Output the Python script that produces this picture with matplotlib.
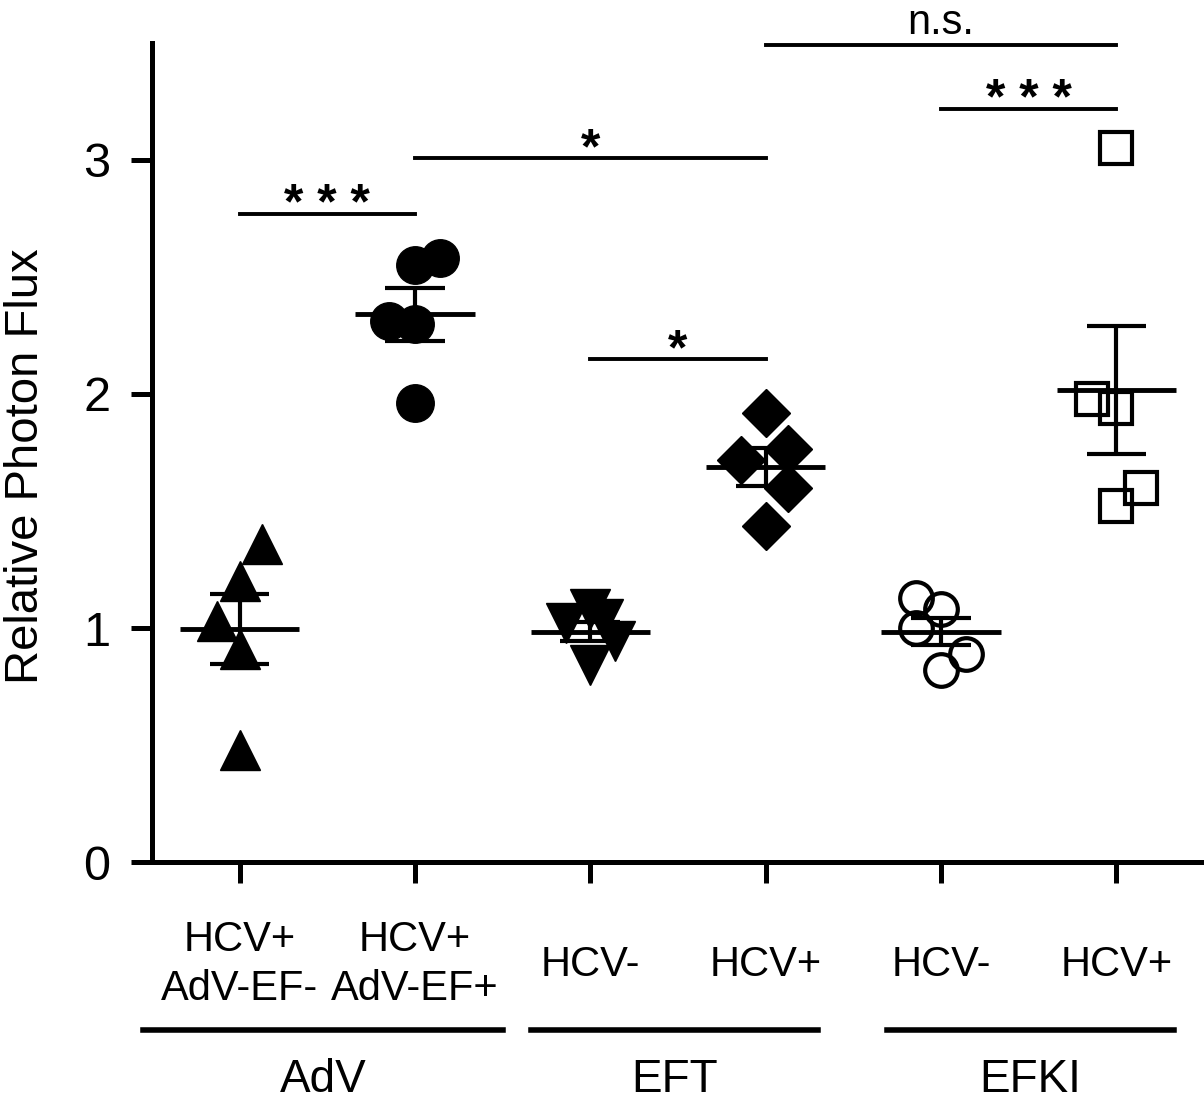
import numpy as np
import matplotlib
matplotlib.use('Agg')
import matplotlib.pyplot as plt

# relative photon flux per animal
adv_ef_neg = [1.36, 1.20, 1.03, 0.91, 0.48]
adv_ef_pos = [2.55, 2.58, 2.31, 2.30, 1.96]
eft_neg = [1.08, 1.02, 1.04, 0.945, 0.84]
eft_pos = [1.92, 1.72, 1.765, 1.60, 1.435]
efki_neg = [1.13, 1.08, 1.00, 0.89, 0.82]
efki_pos = [3.05, 1.98, 1.94, 1.60, 1.52]

tick_labels = ['HCV+\nAdV-EF-', 'HCV+\nAdV-EF+', 'HCV-', 'HCV+', 'HCV-', 'HCV+']
group_names = ['AdV', 'EFT', 'EFKI']

# significance: (left column, right column, label)
sig_pairs = [(1, 2, '* * *'), (2, 4, '*'), (3, 4, '*'), (5, 6, '* * *'), (4, 6, 'n.s.')]

# --- layout / style ---
columns = [adv_ef_neg, adv_ef_pos, eft_neg, eft_pos, efki_neg, efki_pos]
jitter = [
    [0.13, 0.0, -0.13, 0.0, 0.0],
    [0.0, 0.14, -0.15, 0.0, 0.0],
    [0.0, -0.14, 0.07, 0.14, 0.0],
    [0.0, -0.14, 0.13, 0.13, 0.0],
    [-0.14, 0.0, -0.14, 0.14, 0.0],
    [0.0, -0.14, 0.0, 0.14, 0.0],
]
marker_style = [
    dict(marker='^', ms=29, mfc='black', mew=1),
    dict(marker='o', ms=27, mfc='black', mew=1),
    dict(marker='v', ms=29, mfc='black', mew=1),
    dict(marker='D', ms=24.5, mfc='black', mew=1),
    dict(marker='o', ms=23.5, mfc='none', mew=3),
    dict(marker='s', ms=23.5, mfc='none', mew=3),
]
sig_y = [2.77, 3.01, 2.15, 3.22, 3.49]
group_span = [(0.45, 2.5), (2.66, 4.30), (4.69, 6.33)]

plt.rcParams['font.family'] = 'Liberation Sans'

fig = plt.figure(figsize=(12.04, 11.05), dpi=100)
ax = fig.add_axes([0.1262, 0.2199, 0.8738, 0.7412])

for i, vals in enumerate(columns):
    pos = i + 1
    vals = np.array(vals)
    xs = pos + np.array(jitter[i])
    ax.plot(xs, vals, linestyle='none', color='black', mec='black', **marker_style[i])
    mean = vals.mean()
    sem = vals.std(ddof=1) / np.sqrt(len(vals))
    ax.hlines(mean, pos - 0.34, pos + 0.34, color='black', lw=3.5, zorder=4)
    ax.vlines(pos, mean - sem, mean + sem, color='black', lw=3, zorder=4)
    ax.hlines([mean - sem, mean + sem], pos - 0.17, pos + 0.17, color='black', lw=3, zorder=4)

for (a, b, txt), y in zip(sig_pairs, sig_y):
    ax.plot([a, b], [y, y], color='black', lw=2.8, clip_on=False)
    if txt == 'n.s.':
        ax.annotate(txt, ((a + b) / 2, y), xytext=(0, 8.5), textcoords='offset points',
                    ha='center', va='baseline', fontsize=30, annotation_clip=False)
    else:
        ax.annotate(txt, ((a + b) / 2, y), xytext=(0, -4), textcoords='offset points',
                    ha='center', va='baseline', fontsize=36, fontweight='bold',
                    annotation_clip=False)

ax.set_xlim(0.5, 6.5)
ax.set_ylim(0, 3.5)
ax.set_yticks([0, 1, 2, 3])
ax.set_xticks(range(1, 7))
ax.set_xticklabels(tick_labels, fontsize=30, linespacing=1.3, multialignment='center')
for lbl in ax.get_xticklabels():
    lbl.set_va('center')

ax.spines['top'].set_visible(False)
ax.spines['right'].set_visible(False)
ax.spines['left'].set_linewidth(3.6)
ax.spines['bottom'].set_linewidth(3.6)
ax.tick_params(axis='both', direction='out', length=15, width=3.6)
ax.tick_params(axis='y', labelsize=35, pad=15)
ax.tick_params(axis='x', pad=59)

ax.set_ylabel('Relative Photon Flux', fontsize=34, va='center')
ax.yaxis.set_label_coords(-0.1195, 0.4835)

# group brackets under the tick labels
xtr = ax.get_xaxis_transform()
for (x0, x1), name in zip(group_span, group_names):
    ax.plot([x0, x1], [-0.205, -0.205], color='black', lw=4, transform=xtr, clip_on=False)
    ax.text((x0 + x1) / 2, -0.281, name, transform=xtr, ha='center', va='baseline', fontsize=33)

fig.savefig('out.png', dpi=100)
